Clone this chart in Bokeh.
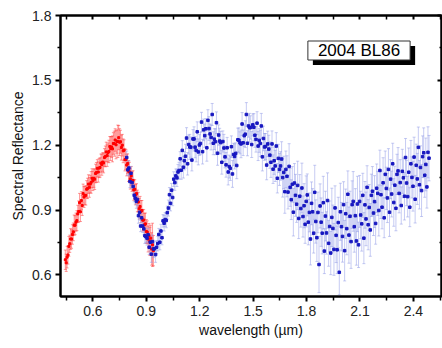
import numpy as np
from bokeh.plotting import figure
from bokeh.models import (ColumnDataSource, Whisker, TeeHead, LinearAxis,
                          FixedTicker, Range1d, Label)
from bokeh.embed import file_html
from bokeh.resources import INLINE

# ---------------- data ----------------
red_wl_start, red_wl_step = 0.445, 0.005
red_refl = [
    0.670, 0.656, 0.682, 0.692, 0.732, 0.744, 0.766, 0.766, 0.787, 0.799,
    0.830, 0.830, 0.844, 0.851, 0.882, 0.893, 0.934, 0.892, 0.944, 0.921,
    0.976, 0.960, 0.967, 0.968, 0.996, 1.000, 1.020, 1.005, 1.020, 1.028,
    1.047, 1.035, 1.047, 1.043, 1.069, 1.074, 1.093, 1.076, 1.094, 1.097,
    1.117, 1.110, 1.122, 1.118, 1.143, 1.148, 1.169, 1.152, 1.166, 1.171,
    1.194, 1.184, 1.192, 1.183, 1.208, 1.207, 1.224, 1.202, 1.217, 1.218,
    1.235, 1.214, 1.216, 1.189, 1.200, 1.174, 1.177, 1.133, 1.134, 1.108,
    1.115, 1.080, 1.077, 1.044, 1.058, 1.032, 1.037, 0.993, 0.996, 0.971,
    0.976, 0.942, 0.937, 0.906, 0.916, 0.893, 0.898, 0.853, 0.854, 0.832,
    0.836, 0.801, 0.798, 0.766, 0.782, 0.755, 0.770, 0.720, 0.739, 0.712]
red_err = [
    0.045, 0.04, 0.05, 0.042, 0.046, 0.04, 0.048, 0.043, 0.045, 0.041,
    0.047, 0.044, 0.042, 0.046, 0.04, 0.049, 0.043, 0.045, 0.041, 0.046,
    0.044, 0.048, 0.042, 0.045, 0.04, 0.047, 0.043, 0.046, 0.041, 0.05,
    0.044, 0.045, 0.042, 0.048, 0.043, 0.046, 0.04, 0.047, 0.044, 0.045,
    0.042, 0.049, 0.043, 0.046, 0.041, 0.048, 0.045, 0.05, 0.044, 0.052,
    0.046, 0.055, 0.048, 0.06, 0.05, 0.058, 0.052, 0.065, 0.054, 0.075,
    0.056, 0.062, 0.053, 0.058, 0.05, 0.055, 0.048, 0.052, 0.046, 0.05,
    0.045, 0.048, 0.044, 0.047, 0.043, 0.046, 0.045, 0.048, 0.044, 0.047,
    0.046, 0.05, 0.045, 0.048, 0.047, 0.051, 0.046, 0.05, 0.048, 0.053,
    0.05, 0.055, 0.052, 0.06, 0.056, 0.065, 0.06, 0.075, 0.1, 0.07]

blue_wl_start, blue_wl_step = 0.79, 0.006
blue_refl = [
    1.143, 1.086, 1.094, 1.032, 1.070, 1.027, 1.009, 0.968, 0.955, 0.941,
    0.949, 0.874, 0.889, 0.826, 0.864, 0.826, 0.813, 0.781, 0.777, 0.770,
    0.786, 0.728, 0.751, 0.696, 0.754, 0.720, 0.721, 0.694, 0.728, 0.745,
    0.787, 0.751, 0.803, 0.772, 0.850, 0.839, 0.856, 0.852, 0.888, 0.909,
    0.971, 0.931, 0.992, 0.958, 1.043, 1.027, 1.058, 1.049, 1.076, 1.083,
    1.137, 1.084, 1.176, 1.098, 1.128, 1.149, 1.233, 1.114, 1.203, 1.192,
    1.191, 1.131, 1.229, 1.229, 1.191, 1.176, 1.262, 1.169, 1.201, 1.208,
    1.307, 1.170, 1.271, 1.244, 1.276, 1.188, 1.315, 1.277, 1.252, 1.236,
    1.342, 1.209, 1.228, 1.216, 1.304, 1.163, 1.247, 1.219, 1.212, 1.121,
    1.217, 1.187, 1.146, 1.109, 1.188, 1.076, 1.101, 1.093, 1.193, 1.067,
    1.157, 1.148, 1.162, 1.106, 1.225, 1.223, 1.211, 1.206, 1.298, 1.211,
    1.244, 1.251, 1.342, 1.209, 1.289, 1.281, 1.282, 1.203, 1.294, 1.283,
    1.246, 1.227, 1.302, 1.196, 1.222, 1.208, 1.289, 1.146, 1.231, 1.192,
    1.194, 1.108, 1.206, 1.182, 1.154, 1.121, 1.206, 1.089, 1.128, 1.104,
    1.196, 1.047, 1.139, 1.088, 1.104,
    1.136, 1.050, 1.074, 0.985, 1.088, 1.056, 0.983, 1.102, 1.005, 0.948,
    1.019, 0.890, 1.025, 0.968, 0.927, 1.014, 0.861, 0.964, 0.907, 1.002,
    0.870, 0.920, 0.834, 0.940, 0.970, 0.844, 0.889, 0.766, 0.931, 0.892,
    0.793, 0.982, 0.847, 0.772, 0.889, 0.648, 0.919, 0.844, 0.793, 0.934,
    0.710, 0.872, 0.794, 0.944, 0.746, 0.824, 0.701, 0.866, 0.815, 0.718,
    0.910, 0.783, 0.716, 0.842, 0.612, 0.892, 0.823, 0.778, 0.925, 0.712,
    0.883, 0.814, 0.973, 0.784, 0.871, 0.754, 0.925, 0.940, 0.823, 0.874,
    0.757, 0.928, 0.739, 0.940, 0.877, 0.836, 0.968, 0.770, 0.924, 0.859,
    1.005, 0.832, 0.912, 0.808, 0.968, 0.987, 0.886, 0.939, 0.838, 1.001,
    0.977, 0.898, 1.083, 0.971, 0.913, 1.026, 0.864, 1.065, 1.000, 0.956,
    1.088, 0.890, 1.043, 0.974, 1.114, 0.935, 1.015, 0.908, 1.065, 1.081,
    0.977, 1.027, 0.921, 1.079, 1.049, 0.964, 1.143, 1.025, 0.962, 1.075,
    0.913, 1.114, 1.051, 1.010, 1.145, 0.950, 1.107, 1.044, 1.190, 1.017,
    1.097, 0.990, 1.147, 1.165, 1.061, 1.111, 1.007, 1.167, 1.140]
blue_err = [
    0.03, 0.025, 0.035, 0.028, 0.032, 0.026, 0.034, 0.03, 0.027, 0.033,
    0.029, 0.035, 0.031, 0.026, 0.034, 0.03, 0.028, 0.036, 0.027, 0.032,
    0.03, 0.034, 0.029, 0.038, 0.031, 0.04, 0.033, 0.036, 0.03, 0.034,
    0.028, 0.035, 0.031, 0.033, 0.029, 0.036, 0.032, 0.034, 0.03, 0.037,
    0.033, 0.035, 0.031, 0.038, 0.034, 0.036, 0.032, 0.04, 0.035, 0.038,
    0.033, 0.042,
    0.045, 0.05, 0.042, 0.055, 0.048, 0.052, 0.044, 0.058, 0.047, 0.05,
    0.043, 0.056, 0.049, 0.053, 0.046, 0.06, 0.048, 0.052, 0.045, 0.057,
    0.05, 0.054, 0.047, 0.062, 0.049, 0.055, 0.046, 0.058, 0.051, 0.053,
    0.048, 0.06, 0.05, 0.056, 0.047, 0.059, 0.052, 0.055, 0.049, 0.063,
    0.051, 0.057, 0.048, 0.06, 0.053, 0.056, 0.05, 0.062, 0.052, 0.058,
    0.049, 0.061, 0.054, 0.057, 0.051, 0.064, 0.053, 0.059, 0.05, 0.062,
    0.055, 0.058, 0.052, 0.066, 0.054, 0.06, 0.051, 0.063, 0.056, 0.059,
    0.053, 0.067, 0.055, 0.061, 0.058, 0.065, 0.057, 0.062, 0.06, 0.068,
    0.059, 0.064, 0.061, 0.07, 0.06, 0.066, 0.063, 0.072, 0.062, 0.068,
    0.065, 0.074, 0.066,
    0.08, 0.09, 0.075, 0.1, 0.085, 0.095, 0.078, 0.105, 0.088, 0.092,
    0.082, 0.11, 0.09, 0.097, 0.084, 0.112, 0.093, 0.1, 0.086, 0.115,
    0.095, 0.102, 0.088, 0.118, 0.097, 0.105, 0.09, 0.12, 0.099, 0.107,
    0.092, 0.125, 0.1, 0.11, 0.094, 0.13, 0.102, 0.112, 0.096, 0.122,
    0.104, 0.115, 0.098, 0.128, 0.106, 0.118, 0.1, 0.135, 0.108, 0.12,
    0.102, 0.126, 0.11, 0.117, 0.104, 0.132, 0.112, 0.119, 0.106, 0.14,
    0.114, 0.121, 0.108, 0.13, 0.116, 0.124, 0.11, 0.138, 0.118, 0.125,
    0.112, 0.128, 0.105, 0.12, 0.11, 0.126, 0.102, 0.118, 0.108, 0.124,
    0.1, 0.116, 0.106, 0.122, 0.098, 0.114, 0.104, 0.12, 0.096, 0.112,
    0.102, 0.118, 0.094, 0.11, 0.1, 0.116, 0.092, 0.108, 0.098, 0.114,
    0.096, 0.112, 0.09, 0.106, 0.095, 0.11, 0.088, 0.104, 0.093, 0.108,
    0.09, 0.106, 0.086, 0.102, 0.092, 0.11, 0.088, 0.105, 0.094, 0.112,
    0.09, 0.108, 0.095, 0.115, 0.092, 0.11, 0.098, 0.118, 0.094, 0.112,
    0.1, 0.12, 0.096, 0.115, 0.102, 0.122, 0.098, 0.118, 0.105]

x_major = [0.6, 0.9, 1.2, 1.5, 1.8, 2.1, 2.4]
x_minor = [0.45, 0.75, 1.05, 1.35, 1.65, 1.95, 2.25, 2.55]
y_major = [0.6, 0.9, 1.2, 1.5, 1.8]
y_minor = [0.75, 1.05, 1.35, 1.65]
x_title = "wavelength (µm)"
y_title = "Spectral Reflectance"
object_name = "2004 BL86"

# ---------------- sources ----------------
def make_source(start, step, refl, err, half_w):
    n = min(len(refl), len(err))
    y = np.array(refl[:n])
    e = np.array(err[:n])
    x = start + step * np.arange(n)
    return ColumnDataSource(dict(x=x, y=y, lo=y - e, hi=y + e,
                                 xl=x - half_w, xr=x + half_w))

rs = make_source(red_wl_start, red_wl_step, red_refl, red_err, 0.006)
bs = make_source(blue_wl_start, blue_wl_step, blue_refl, blue_err, 0.003)

FONT = "Liberation Sans"

p = figure(width=442, height=348, x_range=Range1d(0.418, 2.558),
           y_range=Range1d(0.5, 1.8), output_backend="svg",
           toolbar_location=None, min_border_left=60, min_border_right=1,
           min_border_top=15, min_border_bottom=52,
           background_fill_color="white", border_fill_color="white")
p.grid.visible = False
p.outline_line_color = "black"
p.outline_line_width = 2

def style_axis(ax, labels=True, tick_out=True, minor_len=3):
    ax.axis_line_width = 2
    ax.axis_line_color = "black"
    ax.major_tick_line_width = 2
    ax.minor_tick_line_width = 1.5
    ax.major_tick_line_color = "black"
    ax.minor_tick_line_color = "black"
    if tick_out:
        ax.major_tick_out = 5
        ax.major_tick_in = 0
        ax.minor_tick_out = minor_len
        ax.minor_tick_in = 0
    else:
        ax.major_tick_out = 0
        ax.major_tick_in = 4
        ax.minor_tick_out = 0
        ax.minor_tick_in = minor_len
    if labels:
        ax.major_label_text_font = FONT
        ax.major_label_text_font_size = "14px"
        ax.major_label_text_color = "#222222"
        ax.major_label_standoff = 4
        ax.axis_label_text_font = FONT
        ax.axis_label_text_font_size = "14px"
        ax.axis_label_text_font_style = "normal"
        ax.axis_label_text_color = "#111111"
        ax.axis_label_standoff = 3
    else:
        ax.major_label_text_font_size = "1px"
        ax.major_label_text_color = None
        ax.major_label_standoff = 0

xt = FixedTicker(ticks=x_major, minor_ticks=x_minor)
yt = FixedTicker(ticks=y_major, minor_ticks=y_minor)

p.xaxis.ticker = xt
p.yaxis.ticker = yt
p.xaxis.axis_label = x_title
p.yaxis.axis_label = y_title
style_axis(p.xaxis[0], minor_len=4)
style_axis(p.yaxis[0], minor_len=3)

top_ax = LinearAxis(ticker=FixedTicker(ticks=x_major, minor_ticks=x_minor))
style_axis(top_ax, labels=False, tick_out=False, minor_len=4)
p.add_layout(top_ax, "above")
right_ax = LinearAxis(ticker=FixedTicker(ticks=y_major, minor_ticks=y_minor))
style_axis(right_ax, labels=False, tick_out=False, minor_len=2)
p.add_layout(right_ax, "right")

# ---------------- error bars + points ----------------
RED_E = "#ff3838"
red_w = Whisker(source=rs, base="x", lower="lo", upper="hi", dimension="height",
                line_color=RED_E, line_alpha=0.5, line_width=1,
                lower_head=TeeHead(size=3, line_color=RED_E, line_alpha=0.5),
                upper_head=TeeHead(size=3, line_color=RED_E, line_alpha=0.5))
p.add_layout(red_w)
p.segment(x0="xl", y0="y", x1="xr", y1="y", source=rs, line_color=RED_E,
          line_alpha=0.6, line_width=1)

BLUE_E = "#8f9ae8"
blue_w = Whisker(source=bs, base="x", lower="lo", upper="hi", dimension="height",
                 line_color=BLUE_E, line_alpha=0.5, line_width=1,
                 lower_head=TeeHead(size=3, line_color=BLUE_E, line_alpha=0.5),
                 upper_head=TeeHead(size=3, line_color=BLUE_E, line_alpha=0.5))
p.add_layout(blue_w)
p.segment(x0="xl", y0="y", x1="xr", y1="y", source=bs, line_color=BLUE_E,
          line_alpha=0.5, line_width=1)

p.scatter("x", "y", source=rs, marker="square", size=2, color="#ff0000")
p.scatter("x", "y", source=bs, marker="square", size=2.5, color="#1818c0")

# ---------------- object label with shadow ----------------
shadow = Label(x=303.5, y=241, x_units="screen", y_units="screen",
               text=object_name, text_font=FONT, text_font_size="17px",
               text_color="black", text_align="center", text_baseline="middle",
               background_fill_color="black", padding=(10, 10, 0, 0))
p.add_layout(shadow)
box = Label(x=298.5, y=246, x_units="screen", y_units="screen",
            text=object_name, text_font=FONT, text_font_size="17px",
            text_color="black", text_align="center", text_baseline="middle",
            background_fill_color="white", border_line_color="#333333",
            border_line_width=1, padding=(10, 10, 0, 0))
p.add_layout(box)

open("out.html", "w").write(file_html(p, INLINE))
